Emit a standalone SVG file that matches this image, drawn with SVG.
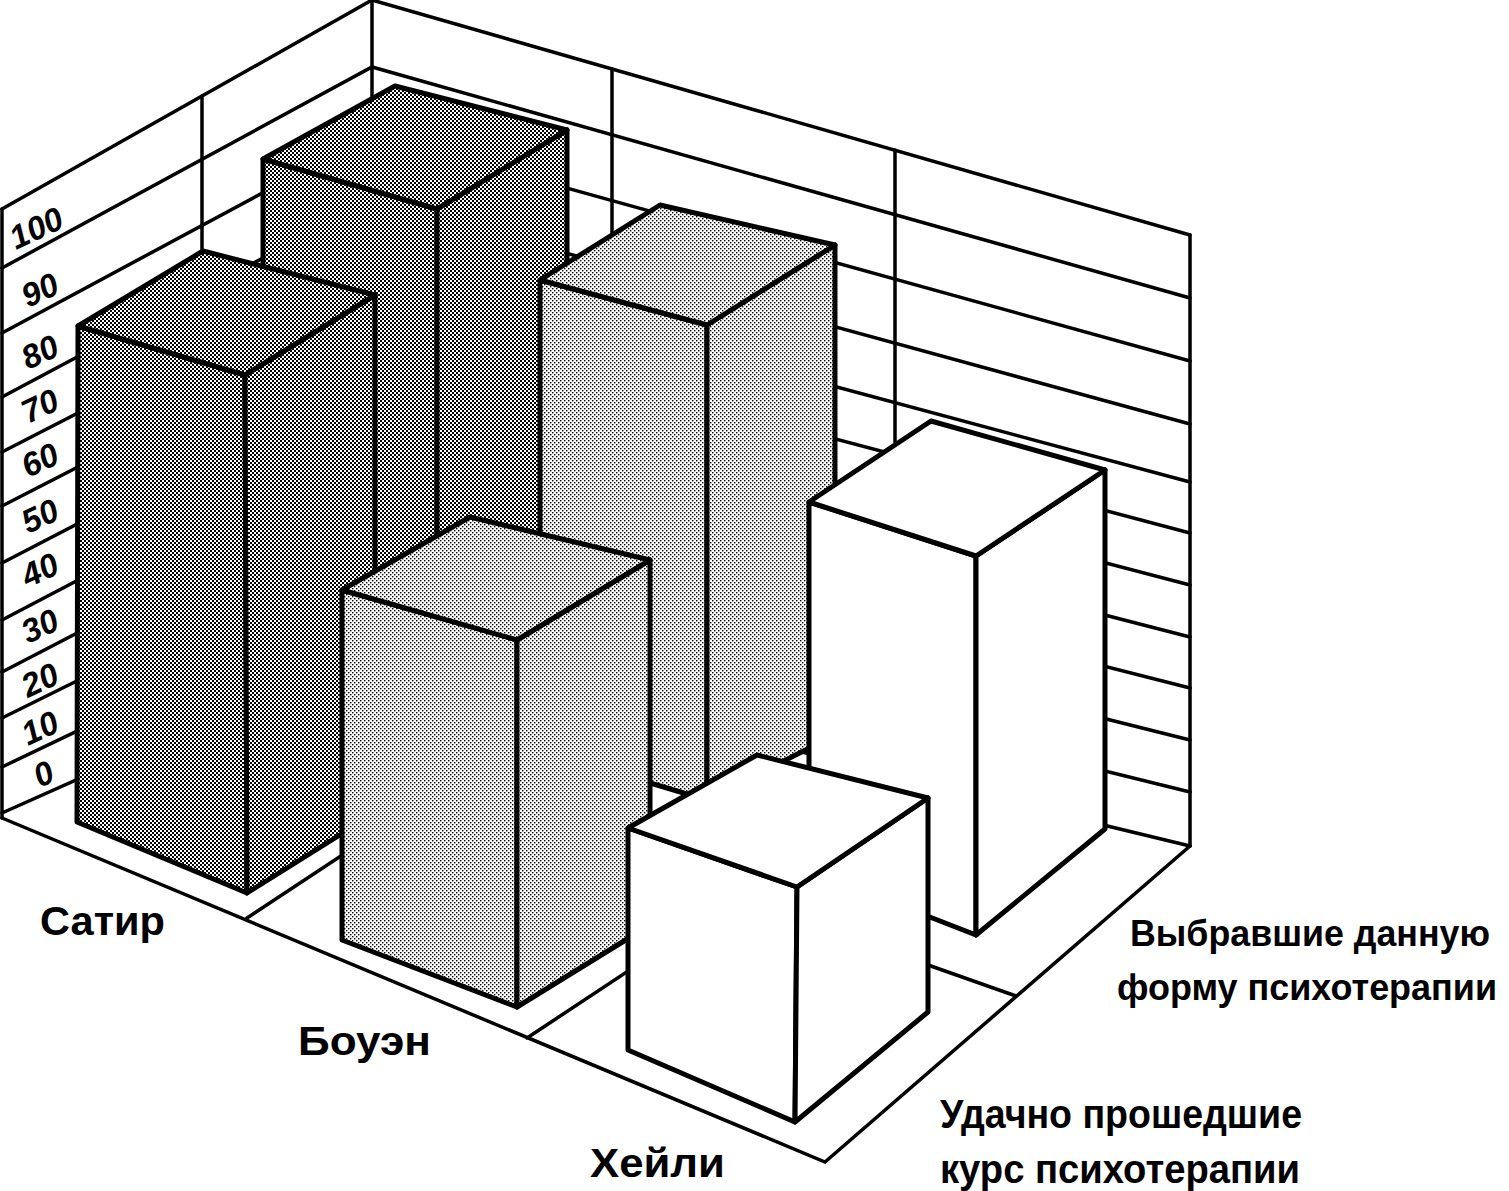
<svg xmlns="http://www.w3.org/2000/svg" width="1509" height="1191" viewBox="0 0 1509 1191">
<defs>
<pattern id="pd" width="4" height="4" patternUnits="userSpaceOnUse"><rect width="4" height="4" fill="#fff"/><rect x="0" y="0" width="2" height="2" fill="#000"/><rect x="2" y="2" width="2" height="2" fill="#000"/></pattern>
<pattern id="pl" width="4" height="4" patternUnits="userSpaceOnUse"><rect width="4" height="4" fill="#fff"/><rect x="0" y="0" width="1.4" height="1.4" fill="#000"/><rect x="2" y="2" width="1.4" height="1.4" fill="#000"/></pattern>
</defs>
<style>
.g{fill:none;stroke:#000;stroke-width:3.5;stroke-linecap:round}
.b path{stroke:#000;stroke-width:5;stroke-linejoin:round}
.d{fill:url(#pd)}
.l{fill:url(#pl)}
.w{fill:#fff}
.n{font-family:"Liberation Sans",Arial,sans-serif;font-weight:bold;font-style:italic;font-size:33px}
.t{font-family:"Liberation Sans",Arial,sans-serif;font-weight:bold;font-size:40px}
.s{font-size:36px}
</style>
<g id="walls" class="g">
<path d="M2,209L2,818M372,0L372,648M1190,235L1190,846M202,96L202,724M612,69L612,706M895,150L895,775"/>
<path d="M2,209L372,0L1190,235M2,268L372,67L1190,298M2,333L372,134L1190,361M2,397L372,200L1190,424M2,452L372,262L1190,482M2,506L372,316L1190,533M2,563L372,371L1190,585M2,620L372,426L1190,637M2,672L372,480L1190,688M2,718L372,535L1190,740M2,767L372,590L1190,792M2,813L372,648L1190,846"/>
<path d="M2,818L825,1162L1190,846M247,918L580,698M527,1038L918,779M928,965L1016,996"/>
</g>
<g id="axis-labels" class="n">
<text transform="translate(16,250) rotate(-25)">100</text>
<text transform="translate(28,308) rotate(-25)">90</text>
<text transform="translate(28,370) rotate(-25)">80</text>
<text transform="translate(28,424) rotate(-25)">70</text>
<text transform="translate(28,478) rotate(-25)">60</text>
<text transform="translate(28,534) rotate(-25)">50</text>
<text transform="translate(28,588) rotate(-25)">40</text>
<text transform="translate(28,644) rotate(-25)">30</text>
<text transform="translate(28,698) rotate(-25)">20</text>
<text transform="translate(28,746) rotate(-25)">10</text>
<text transform="translate(40,788) rotate(-25)">0</text>
</g>
<g id="bar-back-satir" class="b">
<path class="d" d="M263,159L437,209L437,780L263,720Z"/>
<path class="d" d="M437,209L567,130L567,700L437,780Z"/>
<path class="d" d="M263,159L395,86L567,130L437,209Z"/>
</g>
<g id="bar-back-bowen" class="b">
<path class="l" d="M540,280L707,325L707,800L540,750Z"/>
<path class="l" d="M707,325L835,245L835,735L707,800Z"/>
<path class="l" d="M540,280L660,205L835,245L707,325Z"/>
</g>
<g id="bar-back-haley" class="b">
<path class="w" d="M809,502L976,556L976,935L809,870Z"/>
<path class="w" d="M976,556L1105,470L1105,829L976,935Z"/>
<path class="w" d="M809,502L931,421L1105,470L976,556Z"/>
</g>
<g id="bar-front-satir" class="b">
<path class="d" d="M78,326L245,375L247,893L77,822Z"/>
<path class="d" d="M245,375L375,295L375,813L247,893Z"/>
<path class="d" d="M78,326L203,251L375,295L245,375Z"/>
</g>
<g id="bar-front-bowen" class="b">
<path class="l" d="M342,590L517,640L517,1007L342,940Z"/>
<path class="l" d="M517,640L650,560L650,925L517,1007Z"/>
<path class="l" d="M342,590L470,517L650,560L517,640Z"/>
</g>
<g id="bar-front-haley" class="b">
<path class="w" d="M628,828L797,887L795,1122L628,1050Z"/>
<path class="w" d="M797,887L928,798L928,1012L795,1122Z"/>
<path class="w" d="M628,828L757,755L928,798L797,887Z"/>
</g>
<g id="labels" class="t">
<text x="40" y="935" textLength="125" lengthAdjust="spacingAndGlyphs">Сатир</text>
<text x="298" y="1055" textLength="133" lengthAdjust="spacingAndGlyphs">Боуэн</text>
<text x="590" y="1177" textLength="135" lengthAdjust="spacingAndGlyphs">Хейли</text>
<text class="s" x="1130" y="946" textLength="360" lengthAdjust="spacingAndGlyphs">Выбравшие данную</text>
<text class="s" x="1117" y="1000" textLength="380" lengthAdjust="spacingAndGlyphs">форму психотерапии</text>
<text x="940" y="1128" textLength="362" lengthAdjust="spacingAndGlyphs">Удачно прошедшие</text>
<text x="940" y="1183" textLength="360" lengthAdjust="spacingAndGlyphs">курс психотерапии</text>
</g>
</svg>
